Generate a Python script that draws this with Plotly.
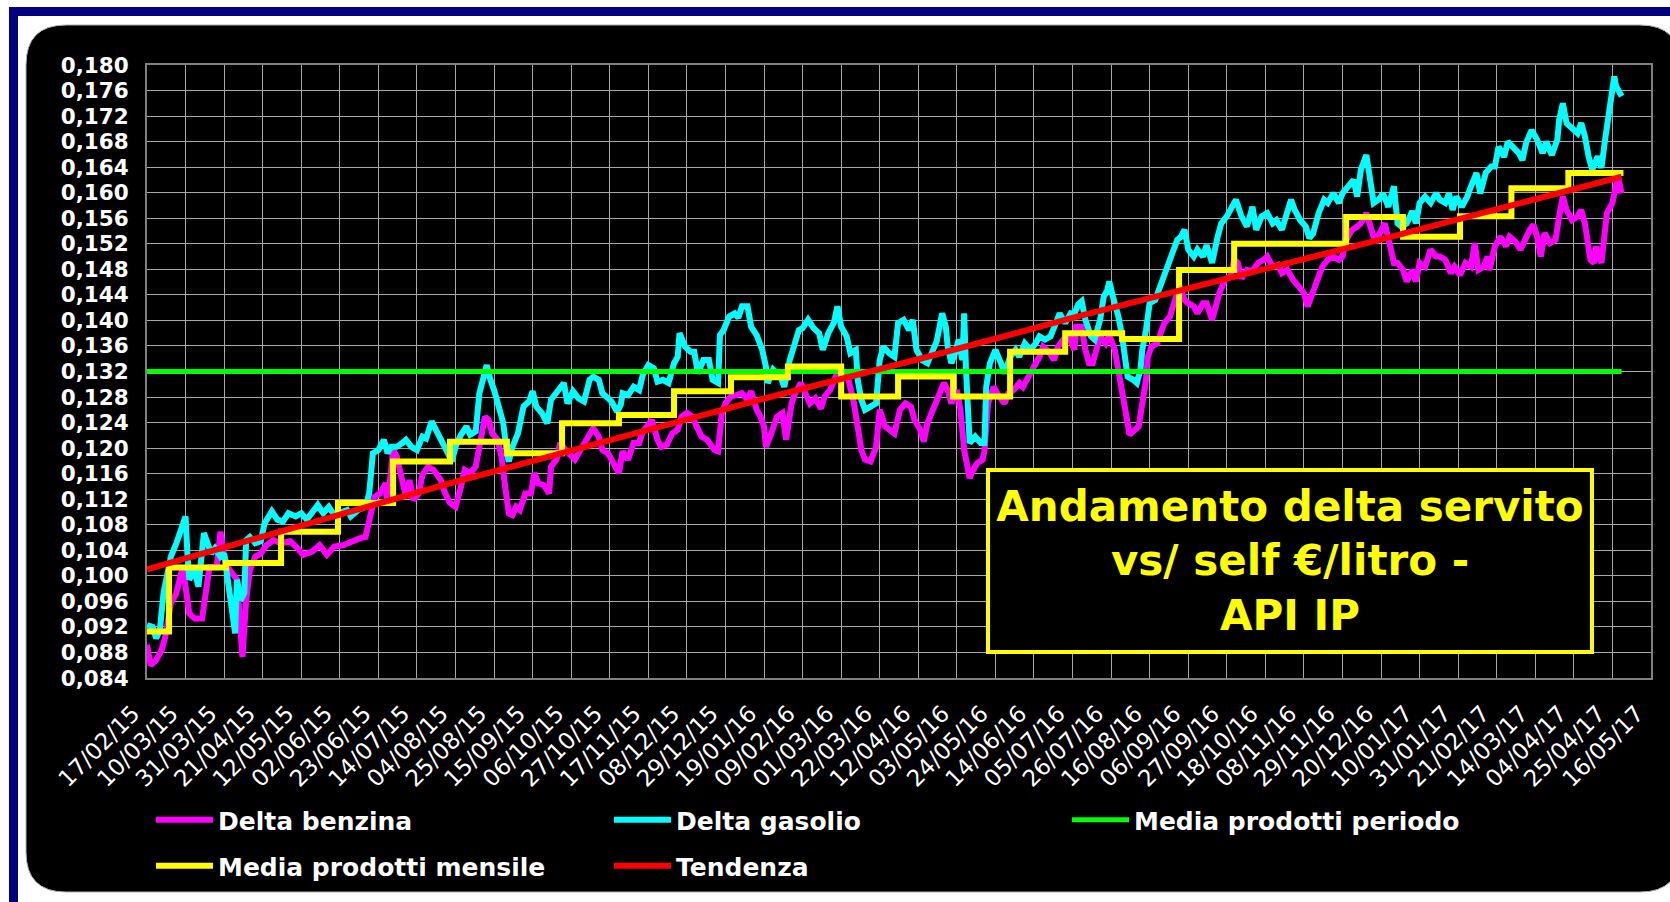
import pandas as pd
import plotly.graph_objects as go

START = "2015-02-17"
END = "2017-05-16"

tick_labels = ["17/02/15", "10/03/15", "31/03/15", "21/04/15", "12/05/15", "02/06/15",
               "23/06/15", "14/07/15", "04/08/15", "25/08/15", "15/09/15", "06/10/15",
               "27/10/15", "17/11/15", "08/12/15", "29/12/15", "19/01/16", "09/02/16",
               "01/03/16", "22/03/16", "12/04/16", "03/05/16", "24/05/16", "14/06/16",
               "05/07/16", "26/07/16", "16/08/16", "06/09/16", "27/09/16", "18/10/16",
               "08/11/16", "29/11/16", "20/12/16", "10/01/17", "31/01/17", "21/02/17",
               "14/03/17", "04/04/17", "25/04/17", "16/05/17"]

# Delta benzina: days since 17/02/15 and values (euro/litro)
benzina_days = [0, 2, 5, 8, 10, 13, 16, 19, 20, 23, 26, 30, 32, 34, 38, 40, 42, 45, 49, 51, 52, 54, 56,
                59, 62, 65, 69, 73, 78, 82, 85, 90, 94, 98, 102, 107, 111, 116, 119, 121, 124, 127,
                130, 131, 134, 136, 139, 141, 143, 145, 148, 150, 153, 156, 160, 162, 165,
                168, 171, 173, 176, 179, 181, 184, 186, 188, 191, 193, 195, 197, 199, 201, 203,
                206, 209, 211, 213, 216, 219, 220, 223, 225, 228, 230, 233, 236, 239, 241, 243,
                246, 248, 251, 254, 257, 259, 262, 265, 268, 270, 273, 275, 278, 280, 283, 286,
                289, 291, 294, 297, 299, 302, 305, 309, 311, 313, 315, 318, 321, 324, 327, 329, 332,
                334, 336, 337, 340, 343, 346, 348, 351, 353, 356, 358, 361, 364, 367, 369, 372,
                375, 377, 380, 382, 385, 387, 389, 391, 394, 397, 399, 402, 405, 407, 410, 413,
                416, 418, 421, 423, 425, 428, 431, 434, 436, 438, 441, 443, 445, 448, 449, 452,
                455, 456, 458, 461, 464, 467, 469, 472, 475, 477, 480, 483, 486, 488, 491, 494,
                496, 499, 502,
                505, 506, 509, 511, 513, 515, 517, 519, 522, 524, 527, 529, 531, 533, 534, 535,
                538, 540, 542, 544, 545, 547, 550, 552, 554, 557, 559, 561, 563, 565, 567, 570,
                572, 575, 577, 579, 580, 582, 584, 587, 590, 592, 594, 596, 599, 602, 605, 608,
                610, 613, 616, 618, 621, 624, 627, 630, 632, 635, 638, 640, 643, 646, 649, 651,
                653, 656, 659, 661, 664, 666, 669,
                671, 674, 677, 679, 681, 684, 686, 689, 691, 693, 696, 699, 702, 704, 707, 710,
                712, 715, 718, 721, 723, 725, 728, 730, 731, 734, 737, 740, 742, 745, 748, 751,
                753, 755, 757, 759, 761, 764, 767, 769, 771, 773, 776, 779, 781, 783, 786, 788,
                789, 792, 795, 798, 800, 801, 803]
benzina_vals = [0.0892, 0.0860, 0.0868, 0.0884, 0.0905, 0.0957, 0.0973, 0.1009, 0.1004, 0.0941,
                0.0933, 0.0933, 0.0973, 0.1014, 0.1014, 0.1069, 0.1030, 0.1009, 0.0994, 0.0910,
                0.0873, 0.0962, 0.1009, 0.1030, 0.1035, 0.1048, 0.1056, 0.1051, 0.1054, 0.1043,
                0.1033, 0.1038, 0.1048, 0.1033, 0.1046, 0.1048, 0.1054, 0.1059, 0.1061, 0.1090,
                0.1124, 0.1129, 0.1145, 0.1111, 0.1197, 0.1187, 0.1145, 0.1124, 0.1150, 0.1119,
                0.1129, 0.1158, 0.1171, 0.1166, 0.1150, 0.1132, 0.1114,
                0.1108, 0.1140, 0.1166, 0.1161, 0.1171, 0.1202, 0.1249, 0.1244, 0.1223, 0.1213,
                0.1187, 0.1140, 0.1098, 0.1095, 0.1108, 0.1103, 0.1129, 0.1129, 0.1161, 0.1145,
                0.1142, 0.1129, 0.1171, 0.1182, 0.1208, 0.1197, 0.1192, 0.1182, 0.1197, 0.1213,
                0.1223, 0.1231, 0.1218, 0.1197, 0.1192, 0.1174, 0.1161, 0.1195, 0.1182, 0.1208,
                0.1208, 0.1226, 0.1239, 0.1244, 0.1213, 0.1202, 0.1205, 0.1223, 0.1229, 0.1249,
                0.1255, 0.1249, 0.1236, 0.1218, 0.1213, 0.1197, 0.1195, 0.1255, 0.1270, 0.1281,
                0.1283, 0.1286, 0.1276, 0.1289, 0.1260,
                0.1250, 0.1234, 0.1202, 0.1223, 0.1249, 0.1255, 0.1213, 0.1270, 0.1286, 0.1302,
                0.1291, 0.1270, 0.1278, 0.1262, 0.1281, 0.1291, 0.1312, 0.1307, 0.1317, 0.1307,
                0.1270, 0.1234, 0.1197, 0.1182, 0.1179, 0.1202, 0.1260, 0.1234, 0.1229, 0.1223,
                0.1260, 0.1270, 0.1265, 0.1244, 0.1229, 0.1210, 0.1239, 0.1260, 0.1286, 0.1302,
                0.1291, 0.1270, 0.1291, 0.1260, 0.1197, 0.1153, 0.1161, 0.1176, 0.1182, 0.1195,
                0.1270, 0.1296, 0.1281, 0.1270, 0.1286, 0.1291, 0.1302, 0.1296, 0.1312, 0.1328,
                0.1343, 0.1359, 0.1351, 0.1338, 0.1359, 0.1370, 0.1375,
                0.1354, 0.1390, 0.1390, 0.1354, 0.1333, 0.1333, 0.1354, 0.1375, 0.1364, 0.1377,
                0.1354, 0.1323, 0.1291, 0.1265, 0.1239, 0.1221, 0.1229, 0.1234, 0.1270, 0.1307,
                0.1343, 0.1359, 0.1364, 0.1380, 0.1396, 0.1406, 0.1427, 0.1443, 0.1448, 0.1432,
                0.1427, 0.1422, 0.1411, 0.1427, 0.1427, 0.1406, 0.1401, 0.1422, 0.1443, 0.1464,
                0.1469, 0.1495, 0.1490, 0.1466, 0.1479, 0.1477, 0.1490, 0.1495, 0.1500, 0.1484,
                0.1487, 0.1474, 0.1479, 0.1464, 0.1453, 0.1443, 0.1422, 0.1443, 0.1469, 0.1484,
                0.1495, 0.1500, 0.1495, 0.1500, 0.1526, 0.1541, 0.1547, 0.1552, 0.1568, 0.1547,
                0.1521,
                0.1535, 0.1552, 0.1516, 0.1490, 0.1490, 0.1479, 0.1461, 0.1479, 0.1461, 0.1490,
                0.1484, 0.1511, 0.1500, 0.1500, 0.1495, 0.1474, 0.1484, 0.1471, 0.1490, 0.1484,
                0.1521, 0.1479, 0.1484, 0.1500, 0.1479, 0.1516, 0.1531, 0.1516, 0.1531, 0.1524,
                0.1511, 0.1531, 0.1542, 0.1550, 0.1531, 0.1500, 0.1537, 0.1521, 0.1526, 0.1563,
                0.1594, 0.1573, 0.1557, 0.1563, 0.1573, 0.1552, 0.1495, 0.1490, 0.1516, 0.1490,
                0.1568, 0.1584, 0.1620, 0.1625, 0.1599]

# Delta gasolio
gasolio_days = [0, 3, 5, 7, 9, 11, 13, 16, 19, 21, 22, 23, 26, 28, 31, 33, 35, 37, 40, 42, 44, 46,
                48, 49, 51, 53, 54, 56, 59, 62, 64, 68, 71, 74, 77, 81, 84, 87, 91, 93, 96, 99,
                102, 105, 109, 111, 115, 119, 121, 123, 126, 129, 131, 133, 136, 139, 141, 144,
                147, 150, 152, 155, 158, 160, 163,
                166, 168, 171, 174, 176, 179, 181, 183, 185, 187, 189, 192, 194, 196, 197, 199,
                202, 205, 208, 210, 212, 215, 218, 220, 223, 227, 229, 232, 235, 238, 241, 243,
                246, 248, 250, 253, 256, 258, 259, 262, 265, 268, 270, 273, 276, 278, 281, 284,
                287, 289, 290, 293, 296, 298, 300, 303, 306, 308, 311, 312, 314, 317, 320, 322,
                324, 327, 329, 332,
                335, 337, 338, 341, 345, 347, 350, 352, 355, 357, 360, 363, 366, 368, 371, 374,
                376, 378, 381, 383, 386, 387, 389, 391, 394, 397, 399, 401, 404, 407, 409, 412,
                415, 417, 419, 422, 425, 427, 430, 433, 435, 436, 438, 440, 442, 444, 445, 446,
                448, 451, 454, 456, 457, 459, 462, 465, 467, 470, 473, 475, 478, 481, 484, 486,
                489, 492, 495, 497, 500, 503,
                505, 507, 509, 511, 514, 516, 519, 521, 523, 524, 526, 529, 531, 533, 534, 537,
                539, 541, 542, 544, 546, 549, 551, 553, 555, 558, 561, 563, 565, 567, 570, 572,
                575, 577, 580, 583, 585, 588, 591, 593, 596, 599, 602, 604, 607, 610, 613, 615,
                618, 621, 623, 625, 628, 631, 633, 635, 638, 641, 643, 646, 649, 651, 654, 657,
                659, 661, 664, 666, 668,
                671, 673, 676, 679, 681, 683, 686, 689, 691, 693, 696, 699, 702, 704, 707, 709,
                711, 713, 716, 719, 721, 724, 726, 729, 732, 734, 736, 739, 741, 744, 747, 749,
                751, 754, 757, 760, 762, 765, 768, 769, 771, 773, 776, 779, 781, 783, 785, 787,
                790, 792, 794, 796, 798, 799, 800, 802, 803]
gasolio_vals = [0.0923, 0.0920, 0.0902, 0.0915, 0.0973, 0.1004, 0.1030, 0.1051, 0.1077, 0.1093,
                0.1035, 0.0994, 0.1009, 0.0983, 0.1067, 0.1051, 0.1035, 0.1043, 0.1030, 0.1035,
                0.0994, 0.0952, 0.0910, 0.0994, 0.0962, 0.0973, 0.1056, 0.1061, 0.1051, 0.1054,
                0.1082, 0.1101, 0.1088, 0.1085, 0.1098, 0.1093, 0.1098, 0.1088, 0.1103, 0.1111,
                0.1098, 0.1108, 0.1095, 0.1098, 0.1103, 0.1093, 0.1103, 0.1108, 0.1129, 0.1192,
                0.1197, 0.1213, 0.1192, 0.1202, 0.1202, 0.1208, 0.1213, 0.1202, 0.1197, 0.1218,
                0.1215, 0.1242, 0.1223, 0.1215, 0.1197,
                0.1179, 0.1202, 0.1221, 0.1234, 0.1221, 0.1226, 0.1286, 0.1312, 0.1330, 0.1307,
                0.1291, 0.1260, 0.1239, 0.1192, 0.1179, 0.1202, 0.1223, 0.1265, 0.1273, 0.1289,
                0.1265, 0.1255, 0.1239, 0.1276, 0.1286, 0.1302, 0.1270, 0.1289, 0.1278, 0.1273,
                0.1307, 0.1312, 0.1307, 0.1286, 0.1281, 0.1273, 0.1257, 0.1268, 0.1286, 0.1283,
                0.1296, 0.1291, 0.1315, 0.1330, 0.1325, 0.1304, 0.1307, 0.1302, 0.1333, 0.1343,
                0.1380, 0.1359, 0.1351, 0.1351, 0.1317, 0.1338, 0.1338, 0.1307, 0.1302, 0.1377,
                0.1385, 0.1406, 0.1411, 0.1404, 0.1422, 0.1422, 0.1390, 0.1377,
                0.1354, 0.1328, 0.1302, 0.1323, 0.1312, 0.1296, 0.1338, 0.1359, 0.1385, 0.1388,
                0.1401, 0.1388, 0.1380, 0.1354, 0.1380, 0.1396, 0.1422, 0.1390, 0.1375, 0.1349,
                0.1354, 0.1307, 0.1276, 0.1260, 0.1265, 0.1270, 0.1338, 0.1359, 0.1349, 0.1343,
                0.1396, 0.1401, 0.1385, 0.1401, 0.1354, 0.1338, 0.1333, 0.1349, 0.1367, 0.1411,
                0.1390, 0.1359, 0.1333, 0.1349, 0.1370, 0.1338, 0.1411, 0.1322, 0.1208, 0.1218,
                0.1208, 0.1208, 0.1296, 0.1333, 0.1354, 0.1333, 0.1317, 0.1343, 0.1354, 0.1343,
                0.1364, 0.1354, 0.1364, 0.1375, 0.1370, 0.1375, 0.1396, 0.1411, 0.1396, 0.1411,
                0.1410, 0.1425, 0.1430, 0.1401, 0.1375, 0.1370, 0.1401, 0.1437, 0.1448, 0.1461,
                0.1437, 0.1406, 0.1375, 0.1338, 0.1312, 0.1307, 0.1302, 0.1323, 0.1354, 0.1385,
                0.1427, 0.1432, 0.1448, 0.1464, 0.1479, 0.1505, 0.1526, 0.1531, 0.1542, 0.1511,
                0.1500, 0.1511, 0.1500, 0.1518, 0.1490, 0.1531, 0.1552, 0.1563, 0.1578, 0.1589,
                0.1563, 0.1547, 0.1578, 0.1542, 0.1563, 0.1568, 0.1552, 0.1557, 0.1542, 0.1568,
                0.1589, 0.1573, 0.1557, 0.1547, 0.1529, 0.1536, 0.1568, 0.1589, 0.1584, 0.1599,
                0.1584, 0.1599, 0.1610, 0.1620, 0.1594, 0.1636, 0.1659, 0.1625, 0.1584,
                0.1590, 0.1599, 0.1578, 0.1610, 0.1552, 0.1547, 0.1552, 0.1571, 0.1552, 0.1584,
                0.1594, 0.1584, 0.1599, 0.1589, 0.1584, 0.1599, 0.1573, 0.1594, 0.1578, 0.1594,
                0.1610, 0.1631, 0.1599, 0.1631, 0.1641, 0.1641, 0.1672, 0.1656, 0.1680, 0.1672,
                0.1662, 0.1651, 0.1678, 0.1698, 0.1683, 0.1662, 0.1680, 0.1659, 0.1683, 0.1714,
                0.1740, 0.1709, 0.1701, 0.1693, 0.1709, 0.1688, 0.1657, 0.1636, 0.1657, 0.1639,
                0.1683, 0.1725, 0.1751, 0.1782, 0.1767, 0.1756, 0.1751]

# Media prodotti periodo
periodo_days = [0, 803]
periodo_vals = [0.132, 0.132]

# Media prodotti mensile (one value per month)
mensile_dates = ["2015-02-17", "2015-03-01", "2015-04-01", "2015-05-01", "2015-06-01", "2015-07-01",
                 "2015-08-01", "2015-09-01", "2015-10-01", "2015-11-01", "2015-12-01", "2016-01-01",
                 "2016-02-01", "2016-03-01", "2016-04-01", "2016-05-01", "2016-06-01", "2016-07-01",
                 "2016-08-01", "2016-09-01", "2016-10-01", "2016-11-01", "2016-12-01", "2017-01-01",
                 "2017-02-01", "2017-03-01", "2017-04-01", "2017-05-01"]
mensile_vals = [0.0913, 0.1013, 0.1020, 0.1069, 0.1114, 0.1179, 0.1210, 0.1192, 0.1239, 0.1252,
                0.1289, 0.1311, 0.1328, 0.1281, 0.1312, 0.1281, 0.1351, 0.1380, 0.1371, 0.1479,
                0.1520, 0.1520, 0.1562, 0.1531, 0.1563, 0.1607, 0.1631, 0.1631]

# Tendenza
tendenza_days = [0, 165, 334, 421, 508, 671, 803]
tendenza_vals = [0.1010, 0.1145, 0.1276, 0.1340, 0.1407, 0.1526, 0.1625]

# ---------------------------------------------------------------------------
W, H = 1670, 902
ML, MR, MT, MB = 147, 19, 65, 224
PW, PH = W - ML - MR, H - MT - MB


def px(x):
    return (x - ML) / PW


def py(y):
    return (H - MB - y) / PH


def to_dates(days):
    return pd.Timestamp(START) + pd.to_timedelta(days, unit="D")


tick_vals = pd.to_datetime(tick_labels, format="%d/%m/%y")

FONT = "DejaVu Sans, Verdana, sans-serif"

fig = go.Figure()
fig.add_trace(go.Scatter(x=to_dates(benzina_days), y=benzina_vals, mode="lines", name="Delta benzina",
                         line=dict(color="#FF00FF", width=6), legend="legend"))
fig.add_trace(go.Scatter(x=to_dates(gasolio_days), y=gasolio_vals, mode="lines", name="Delta gasolio",
                         line=dict(color="#00FFFF", width=6), legend="legend"))
fig.add_trace(go.Scatter(x=to_dates(periodo_days), y=periodo_vals, mode="lines",
                         name="Media prodotti periodo",
                         line=dict(color="#00FF00", width=5), legend="legend"))
fig.add_trace(go.Scatter(x=pd.to_datetime(mensile_dates), y=mensile_vals, mode="lines",
                         name="Media prodotti mensile", line_shape="hv",
                         line=dict(color="#FFFF00", width=6), legend="legend2"))
fig.add_trace(go.Scatter(x=to_dates(tendenza_days), y=tendenza_vals, mode="lines", name="Tendenza",
                         line=dict(color="#FF0000", width=6), legend="legend2"))

# background frame shapes (pixel geometry converted to paper units)
L, T, R, B, r = 26, 25, 1680, 892, 40
path = (f"M {px(L)},{py(T + r)} Q {px(L)},{py(T)} {px(L + r)},{py(T)} "
        f"L {px(R - r)},{py(T)} Q {px(R)},{py(T)} {px(R)},{py(T + r)} "
        f"L {px(R)},{py(B - r)} Q {px(R)},{py(B)} {px(R - r)},{py(B)} "
        f"L {px(L + r)},{py(B)} Q {px(L)},{py(B)} {px(L)},{py(B - r)} Z")
shapes = [
    dict(type="rect", xref="paper", yref="paper", x0=px(13.5), y0=py(11.5), x1=px(1720), y1=py(940),
         line=dict(color="#000080", width=9), fillcolor="rgba(0,0,0,0)", layer="below"),
    dict(type="path", xref="paper", yref="paper", path=path, fillcolor="#000000",
         line=dict(color="#B0B0B0", width=1), layer="below"),
]

legend_common = dict(orientation="h", xref="container", yref="container", xanchor="left",
                     yanchor="middle", bgcolor="rgba(0,0,0,0)", borderwidth=0,
                     font=dict(family=FONT, size=25, color="#FFFFFF", weight="bold"),
                     itemwidth=57, entrywidth=386, entrywidthmode="pixels", traceorder="normal")

fig.update_layout(
    width=W, height=H,
    margin=dict(l=ML, r=MR, t=MT, b=MB, autoexpand=False),
    paper_bgcolor="#FFFFFF", plot_bgcolor="#000000",
    separators=",.",
    shapes=shapes,
    showlegend=True,
    legend=dict(x=151 / W, y=1 - 820 / H, **legend_common),
    legend2=dict(x=151 / W, y=1 - 866 / H, **legend_common),
    xaxis=dict(type="date", range=[START, END], tickvals=tick_vals, ticktext=tick_labels,
               tickangle=-45, tickfont=dict(family=FONT, size=23, color="#FFFFFF"),
               showgrid=True, gridcolor="#A8A8A8", gridwidth=1, zeroline=False,
               showline=True, linecolor="#808080", linewidth=2, mirror=True,
               ticks="", ticklabelstandoff=11, ticklabelshift=-14, automargin=False),
    yaxis=dict(range=[0.084, 0.180], tick0=0.084, dtick=0.004, tickformat=".3f",
               tickfont=dict(family=FONT, size=21.5, color="#FFFFFF", weight="bold"),
               showgrid=True, gridcolor="#A8A8A8", gridwidth=1, zeroline=False,
               showline=True, linecolor="#808080", linewidth=2, mirror=True,
               ticks="", ticklabelstandoff=12, automargin=False),
    annotations=[dict(
        xref="paper", yref="paper", x=px(1290), y=py(561), xanchor="center", yanchor="middle",
        text="Andamento delta servito<br>vs/ self €/litro -<br>API IP", showarrow=False,
        font=dict(family=FONT, size=42, color="#FFFF00", weight="bold"),
        align="center", valign="middle", width=598, height=176,
        bgcolor="#000000", bordercolor="#FFFF00", borderwidth=4, borderpad=1)],
)

fig.write_html("out.html", config={"displayModeBar": False},
               post_script="document.body.style.margin='0px';document.body.style.overflow='hidden';")
